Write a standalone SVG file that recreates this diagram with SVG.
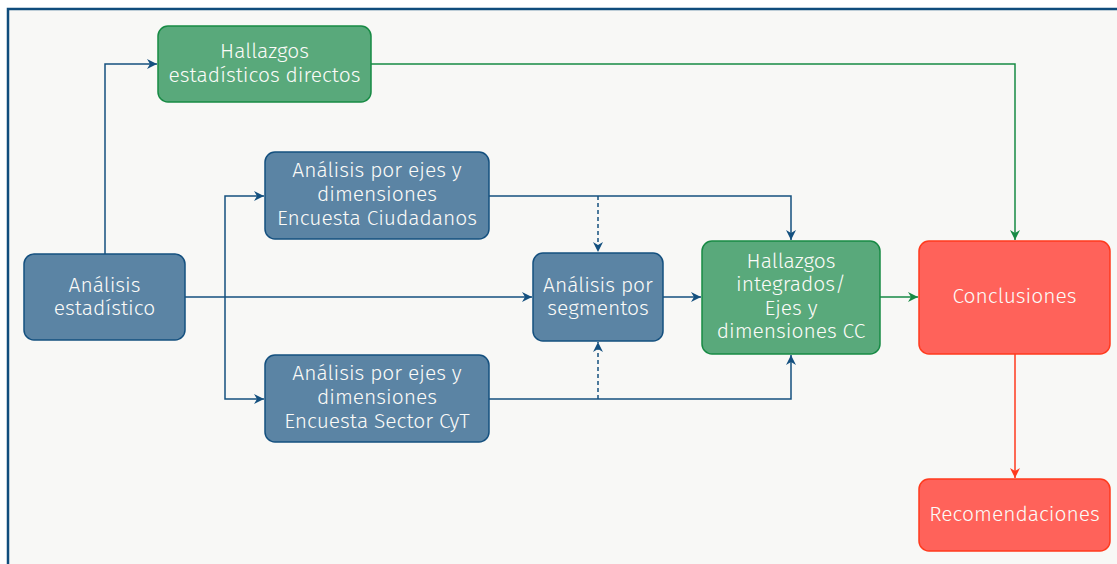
<svg xmlns="http://www.w3.org/2000/svg" width="1117" height="564" viewBox="0 0 1117 564">
<style>
text{font-family:"Fira Sans","Noto Sans","Open Sans",sans-serif;font-size:21px;font-weight:300;fill:#fbfbf8;text-anchor:middle;dominant-baseline:central}
.b{fill:#5b84a4;stroke:#14507f;stroke-width:1.5}
.g{fill:#59a97b;stroke:#178a44;stroke-width:1.5}
.r{fill:#ff625a;stroke:#ff3a1e;stroke-width:1.5}
.cb{fill:none;stroke:#14507f;stroke-width:1.5}
.cg{fill:none;stroke:#178a44;stroke-width:1.5}
.cr{fill:none;stroke:#ff3a1e;stroke-width:1.5}
.d{stroke-dasharray:4,3}
</style>
<defs>
<marker id="ab" viewBox="0 0 10 10" refX="10" refY="5" markerWidth="10" markerHeight="10" orient="auto" markerUnits="userSpaceOnUse"><path d="M0,0L10,5L0,10L3,5z" fill="#14507f"/></marker>
<marker id="ag" viewBox="0 0 10 10" refX="10" refY="5" markerWidth="10" markerHeight="10" orient="auto" markerUnits="userSpaceOnUse"><path d="M0,0L10,5L0,10L3,5z" fill="#178a44"/></marker>
<marker id="ar" viewBox="0 0 10 10" refX="10" refY="5" markerWidth="10" markerHeight="10" orient="auto" markerUnits="userSpaceOnUse"><path d="M0,0L10,5L0,10L3,5z" fill="#ff3a1e"/></marker>
</defs>
<rect x="8" y="9" width="1120" height="570" fill="#f8f8f6" stroke="#0f4c7c" stroke-width="2.5"/>
<g id="connectors">
<path class="cb" d="M105,254V64H157" marker-end="url(#ab)"/>
<path class="cg" d="M371,64H1015V240" marker-end="url(#ag)"/>
<path class="cb" d="M185,297H532" marker-end="url(#ab)"/>
<path class="cb" d="M225,297V196H264" marker-end="url(#ab)"/>
<path class="cb" d="M225,297V399H264" marker-end="url(#ab)"/>
<path class="cb" d="M489,196H791V240" marker-end="url(#ab)"/>
<path class="cb" d="M489,399H791V355" marker-end="url(#ab)"/>
<path class="cb d" d="M598,196V252" marker-end="url(#ab)"/>
<path class="cb d" d="M598,399V342" marker-end="url(#ab)"/>
<path class="cb" d="M663,297H701" marker-end="url(#ab)"/>
<path class="cg" d="M880,297H918" marker-end="url(#ag)"/>
<path class="cr" d="M1015,354V478" marker-end="url(#ar)"/>
</g>
<g id="hallazgos-directos">
<rect class="g" x="158" y="26" width="213" height="76" rx="10"/>
<text x="264.5" y="51">Hallazgos</text>
<text x="264.5" y="75">estadísticos directos</text>
</g>
<g id="analisis-estadistico">
<rect class="b" x="24" y="254" width="161" height="86" rx="10"/>
<text x="104.5" y="285">Análisis</text>
<text x="104.5" y="308">estadístico</text>
</g>
<g id="ejes-ciudadanos">
<rect class="b" x="265" y="152" width="224" height="87" rx="10"/>
<text x="377" y="170">Análisis por ejes y</text>
<text x="377" y="194">dimensiones</text>
<text x="377" y="218">Encuesta Ciudadanos</text>
</g>
<g id="ejes-cyt">
<rect class="b" x="265" y="355" width="224" height="87" rx="10"/>
<text x="377" y="373">Análisis por ejes y</text>
<text x="377" y="397">dimensiones</text>
<text x="377" y="421">Encuesta Sector CyT</text>
</g>
<g id="segmentos">
<rect class="b" x="533" y="253" width="130" height="88" rx="10"/>
<text x="598" y="285">Análisis por</text>
<text x="598" y="308">segmentos</text>
</g>
<g id="hallazgos-integrados">
<rect class="g" x="702" y="241" width="178" height="113" rx="10"/>
<text x="791" y="261">Hallazgos</text>
<text x="791" y="284">integrados/</text>
<text x="791" y="308">Ejes y</text>
<text x="791" y="331">dimensiones CC</text>
</g>
<g id="conclusiones">
<rect class="r" x="919" y="241" width="191" height="113" rx="10"/>
<text x="1014.5" y="296">Conclusiones</text>
</g>
<g id="recomendaciones">
<rect class="r" x="919" y="479" width="191" height="72" rx="10"/>
<text x="1014.5" y="514">Recomendaciones</text>
</g>
</svg>
